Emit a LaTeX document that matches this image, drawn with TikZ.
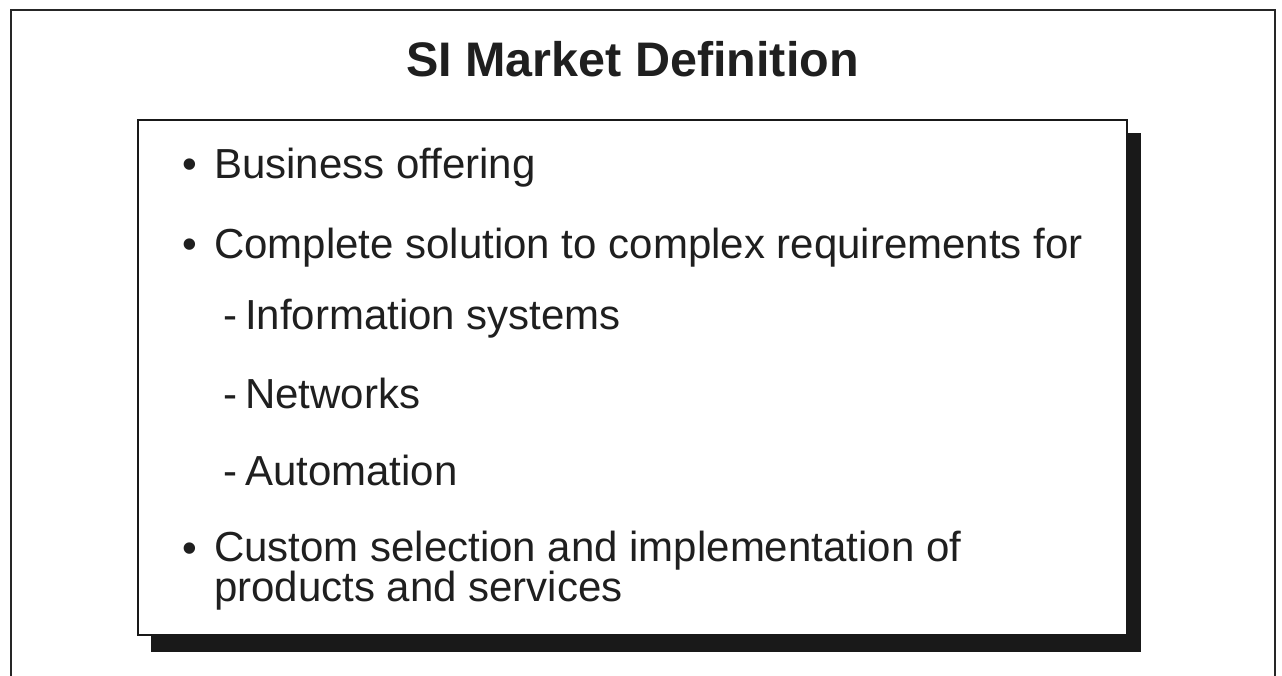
\documentclass[tikz,border=0pt]{standalone}
\usepackage{fontspec}
\setmainfont{Liberation Sans}
\begin{document}
\begin{tikzpicture}[x=1pt,y=-1pt,
  body/.style={inner sep=0pt, anchor=base west, text=black!88, font=\fontsize{42}{37}\selectfont},
  ttl/.style={inner sep=0pt, anchor=base, text=black!88, font=\fontsize{48.5}{56}\selectfont\bfseries},
  frame/.style={draw=black!85, line width=2pt},
]
\useasboundingbox[fill=white] (0,0) rectangle (1282,676);
% outer frame (open at bottom)
\draw[frame] (11,676) -- (11,10) -- (1275,10) -- (1275,676);
% shadow and box
\fill[black!90] (151,133) rectangle (1141,652);
\node[draw=black!90, line width=2.2pt, fill=white, inner sep=0pt, minimum width=989pt, minimum height=515pt, anchor=north west] (box) at (137,119) {};
% title
\node[ttl] (title) at (632.5,77) {SI Market Definition};
% bullets
\node[body] (b1) at (182,179) {•};
\node[body] (t1) at (214,179) {Business offering};
\node[body] (b2) at (182,259) {•};
\node[body] (t2) at (214,259) {Complete solution to complex requirements for};
\node[body] (d1) at (223,329) {-};
\node[body] (s1) at (245,329) {Information systems};
\node[body] (d2) at (223,408) {-};
\node[body] (s2) at (245,408) {Networks};
\node[body] (d3) at (223,485) {-};
\node[body] (s3) at (245,485) {Automation};
\node[body] (b3) at (182,562) {•};
\node[body, align=left, anchor=north west] (t3) at (214,531) {Custom selection and implementation of\\products and services};
\end{tikzpicture}
\end{document}
